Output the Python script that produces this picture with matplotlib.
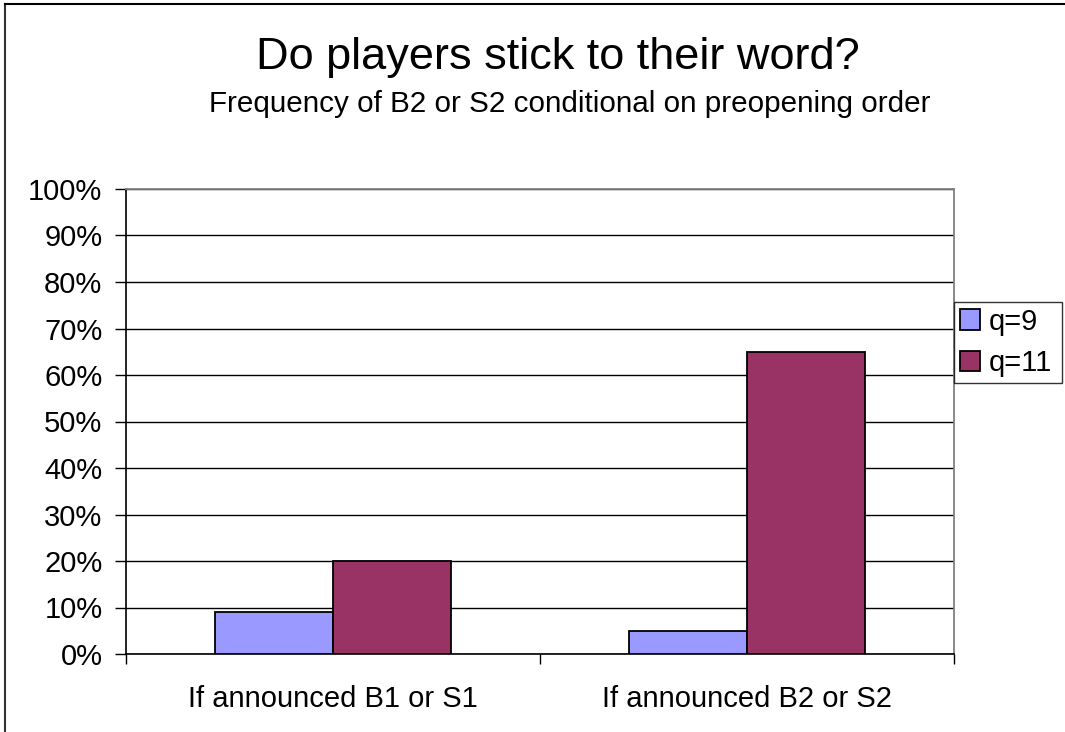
import numpy as np
import matplotlib
matplotlib.use('Agg')
import matplotlib.pyplot as plt
from matplotlib.lines import Line2D
from matplotlib.ticker import FuncFormatter

plt.rcParams['font.family'] = ['Liberation Sans', 'DejaVu Sans']

categories = ['If announced B1 or S1', 'If announced B2 or S2']
series_names = ['q=9', 'q=11']
q9 = [9, 5]
q11 = [20, 65]
colors = ['#9999FF', '#993366']

W, H = 1065, 732
fig = plt.figure(figsize=(W / 100, H / 100), dpi=100)
ax = fig.add_axes([126 / W, 1 - 654 / H, (954 - 126) / W, (654 - 189) / H])

x = np.arange(len(categories)) + 0.5
w = 1 / 3.5
ax.bar(x - w / 2, q9, w, color=colors[0], edgecolor='black', linewidth=1.3,
       label=series_names[0], zorder=3)
ax.bar(x + w / 2, q11, w, color=colors[1], edgecolor='black', linewidth=1.3,
       label=series_names[1], zorder=3)

ax.set_xlim(0, 2)
ax.set_ylim(0, 100)
ax.set_yticks(np.arange(0, 101, 10))
ax.yaxis.set_major_formatter(FuncFormatter(lambda v, p: '%d%%' % v))
ax.yaxis.grid(True, color='black', linewidth=1)
ax.set_axisbelow(True)
ax.set_xticks([0, 1, 2])
ax.set_xticklabels([])
ax.set_xticks(x, minor=True)
ax.set_xticklabels(categories, minor=True)
ax.tick_params(axis='x', which='minor', length=0, pad=22, labelsize=21)
ax.tick_params(axis='x', which='major', direction='out', length=7, width=1)
ax.tick_params(axis='y', direction='out', length=8, width=1, pad=9, labelsize=21)

for s in ['top', 'right']:
    ax.spines[s].set_color('#808080')
    ax.spines[s].set_linewidth(1.3)
ax.spines['left'].set_linewidth(1.2)
ax.spines['bottom'].set_linewidth(1.2)

leg = ax.legend(loc='upper left', bbox_to_anchor=(954 / W, 1 - 384 / H, (1062 - 954) / W, (384 - 302) / H),
                bbox_transform=fig.transFigure, mode='expand', fontsize=21,
                frameon=True, fancybox=False, handlelength=0.7, handleheight=0.7,
                handletextpad=0.3, borderpad=0.2, labelspacing=0.45, borderaxespad=0)
leg.get_frame().set_edgecolor('black')
leg.get_frame().set_linewidth(1)

fig.text(0.524, 1 - 69 / H, 'Do players stick to their word?', ha='center', va='baseline', fontsize=32.5)
fig.text(0.535, 1 - 112 / H, 'Frequency of B2 or S2 conditional on preopening order',
         ha='center', va='baseline', fontsize=21.3)

fig.add_artist(Line2D([5 / W, 5 / W], [0, 1 - 4 / H], transform=fig.transFigure, color='#333333', linewidth=1.5))
fig.add_artist(Line2D([5 / W, 1], [1 - 4 / H, 1 - 4 / H], transform=fig.transFigure, color='black', linewidth=1.5))

fig.savefig('out.png', dpi=100)
